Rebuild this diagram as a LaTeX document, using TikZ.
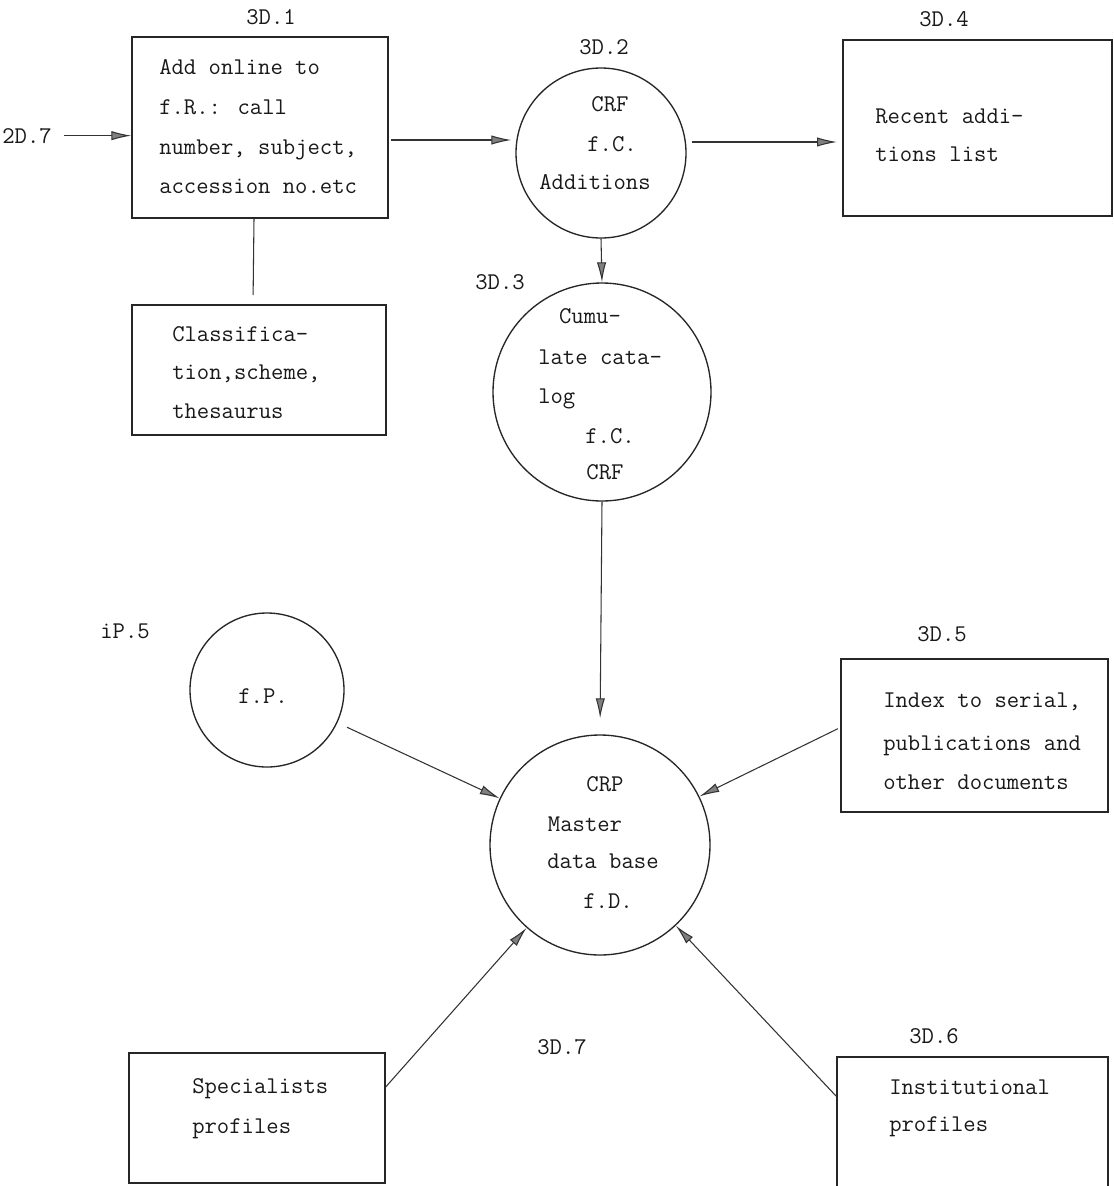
\documentclass[tikz,border=0pt]{standalone}
\usepackage{fontspec}
\usetikzlibrary{arrows.meta}
\begin{document}
\begin{tikzpicture}[x=0.75pt,y=-0.75pt,
  boxnode/.style={draw=black!85, line width=1pt, inner sep=0pt, rectangle},
  circnode/.style={draw=black!85, line width=1pt, inner sep=0pt, circle},
  txt/.style={anchor=base west, inner sep=0pt, font=\fontsize{18}{20}\selectfont\ttfamily, text=black!90},
  ctxt/.style={anchor=base, inner sep=0pt, font=\fontsize{18}{20}\selectfont\ttfamily, text=black!90},
  arr/.style={draw=black!80, line width=0.8pt, -{Latex[length=15pt,width=7pt,fill=black!50]}},
  link/.style={draw=black!80, line width=0.8pt},
]
\useasboundingbox[fill=white] (0,0) rectangle (1114,1186);

% shapes
\node[boxnode, minimum width=192pt, minimum height=135.75pt] (b31) at (260,127.5) {};
\node[boxnode, minimum width=201.75pt, minimum height=132pt] (b34) at (977.5,128) {};
\node[boxnode, minimum width=190.5pt, minimum height=97.5pt] (bcl) at (259,370) {};
\node[boxnode, minimum width=200.25pt, minimum height=114.75pt] (b35) at (974.5,735.5) {};
\node[boxnode, minimum width=192pt, minimum height=97.5pt] (b37) at (257,1118) {};
\node[boxnode, minimum width=203.25pt, minimum height=107.25pt] (b36) at (972.5,1128.5) {};
\node[circnode, minimum size=127.5pt] (c32) at (601,153) {};
\node[circnode, minimum size=163.5pt] (c33) at (602,392) {};
\node[circnode, minimum size=115.5pt] (cP) at (267,690) {};
\node[circnode, minimum size=165pt] (cD) at (600,845) {};

% labels
\node[ctxt] (l31) at (271,24) {3D.1};
\node[ctxt] (l27) at (27,143) {2D.7};
\node[ctxt] (l32) at (604,54) {3D.2};
\node[ctxt] (l34) at (944,26) {3D.4};
\node[ctxt] (l33) at (500,289) {3D.3};
\node[ctxt] (lP5) at (125,638) {iP.5};
\node[ctxt] (l35) at (942,641) {3D.5};
\node[ctxt] (l37) at (562,1054) {3D.7};
\node[ctxt] (l36) at (934,1043) {3D.6};

% box texts
\node[txt] (t31a) at (159,74) {Add online to};
\node[txt] (t31b) at (159,114) {f.R.: call};
\node[txt] (t31c) at (159,154) {number, subject,};
\node[txt] (t31d) at (159,193) {accession no.etc};

\node[txt] (t34a) at (875,123) {Recent addi-};
\node[txt] (t34b) at (875,161) {tions list};

\node[txt] (tcla) at (172,341) {Classifica-};
\node[txt] (tclb) at (172,379) {tion,scheme,};
\node[txt] (tclc) at (172,418) {thesaurus};

\node[txt] (t35a) at (883,707) {Index to serial,};
\node[txt] (t35b) at (883,750) {publications and};
\node[txt] (t35c) at (883,789) {other documents};

\node[txt] (t37a) at (192,1093) {Specialists};
\node[txt] (t37b) at (192,1133) {profiles};

\node[txt] (t36a) at (889,1094) {Institutional};
\node[txt] (t36b) at (889,1131) {profiles};

% circle texts
\node[ctxt] (t32a) at (610,111) {CRF};
\node[ctxt] (t32b) at (612,151) {f.C.};
\node[ctxt] (t32c) at (595,189) {Additions};

\node[ctxt] (t33a) at (590,323) {Cumu-};
\node[txt]  (t33b) at (538,364) {late cata-};
\node[txt]  (t33c) at (538,403) {log};
\node[ctxt] (t33d) at (610,443) {f.C.};
\node[ctxt] (t33e) at (605,479) {CRF};

\node[ctxt] (tPa) at (263,703) {f.P.};

\node[ctxt] (tDa) at (605,791) {CRP};
\node[ctxt] (tDb) at (585,831) {Master};
\node[ctxt] (tDc) at (603,868) {data base};
\node[ctxt] (tDd) at (608,908) {f.D.};

% helper rows
\coordinate (r1) at (0,140);
\coordinate (r2) at (0,142);

% connectors
\draw[arr, shorten <=9pt] (l27.east) -- (l27.east -| b31.west);
\draw[arr, shorten <=2pt, shorten >=3pt] (b31.east |- r1) -- (c32.west |- r1);
\draw[arr, shorten <=4pt, shorten >=4pt] (c32.east |- r2) -- (b34.west |- r2);
\draw[arr] (c32.south) -- (c33.north);
\draw[arr, shorten >=12pt] (c33.south) -- (cD.north);
\draw[link, shorten >=7pt] ([xshift=-4.5pt]b31.south) -- ([xshift=-4.5pt]bcl.north);
\draw[arr, shorten <=8pt] (cP) -- (cD);
\draw[arr, shorten <=2pt] ([yshift=6pt]b35.west) -- (cD);
\draw[arr] ([yshift=-26pt]b37.north east) -- (cD);
\draw[arr] ([yshift=-30pt]b36.north west) -- (cD);
\end{tikzpicture}
\end{document}
